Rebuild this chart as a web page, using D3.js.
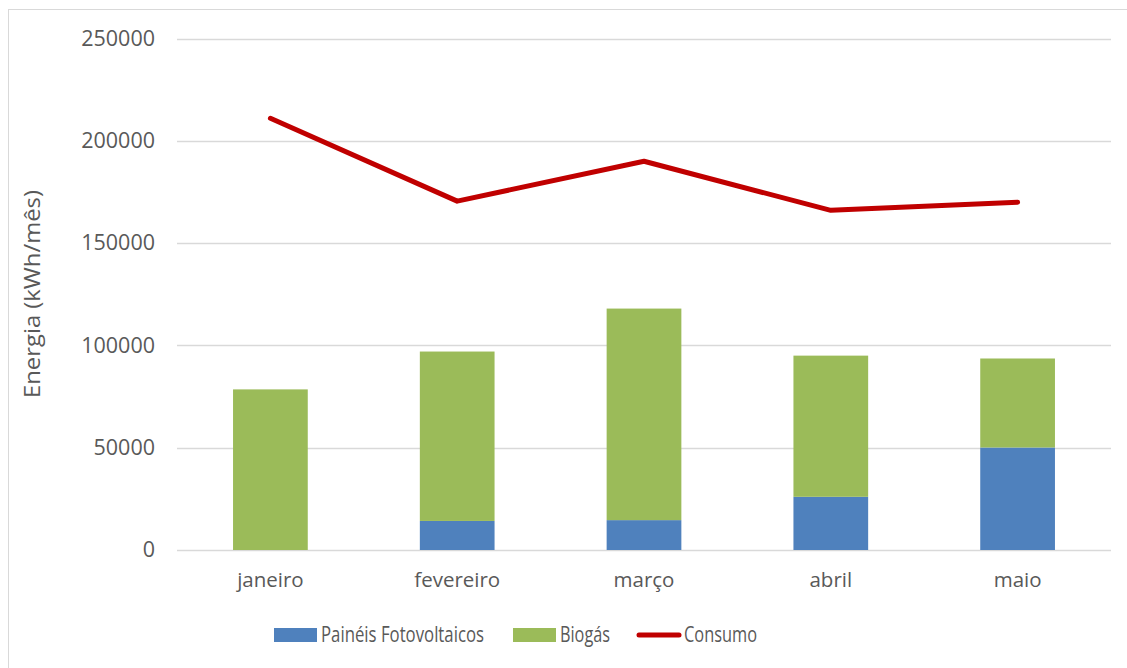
<!DOCTYPE html>
<html><head><meta charset="utf-8">
<script src="https://cdn.jsdelivr.net/npm/d3@7"></script>
<style>
html,body{margin:0;padding:0;background:#fff;}
text{font-family:"Open Sans",sans-serif;fill:#595959;}
</style></head>
<body><svg id="c" width="1127" height="668"></svg>
<script>
const categories = ["janeiro","fevereiro","março","abril","maio"];
const fotovoltaicos = [0, 14200, 14600, 26000, 50100];
const biogas = [78500, 82800, 103400, 69000, 43500];
const consumo = [211000, 170500, 190000, 166000, 170000];
const yTicks = [0, 50000, 100000, 150000, 200000, 250000];
const seriesNames = ["Painéis Fotovoltaicos", "Biogás", "Consumo"];
const colors = ["#4F81BD", "#9BBB59", "#C00000"];

(function(){
const svg = d3.select("#c");
const pLeft = 177, pRight = 1111, pTop = 38.5, pBottom = 550;
const fs = 20.5;

svg.append("rect").attr("x",8.5).attr("y",9.5).attr("width",1140).attr("height",700)
  .attr("fill","none").attr("stroke","#D9D9D9").attr("stroke-width",1);

const x = d3.scaleBand().domain(categories).range([pLeft,pRight]).padding(0);
const y = d3.scaleLinear().domain([0,250000]).range([pBottom,pTop]);

// gridlines
svg.append("g").selectAll("line").data(yTicks).join("line")
  .attr("x1",pLeft).attr("x2",pRight)
  .attr("y1",d=>Math.round(y(d))+0.5).attr("y2",d=>Math.round(y(d))+0.5)
  .attr("stroke","#D9D9D9").attr("stroke-width",1.3);

// y axis labels
const yAxis = d3.axisLeft(y).tickValues(yTicks).tickSize(0).tickPadding(22).tickFormat(d3.format("d"));
const gy = svg.append("g").attr("transform",`translate(${pLeft},0)`).call(yAxis);
gy.select(".domain").remove();
gy.selectAll("text").attr("font-size",21.5).attr("font-family","Open Sans").attr("fill","#595959");

// x axis labels
const xAxis = d3.axisBottom(x).tickSize(0).tickPadding(22);
const gx = svg.append("g").attr("transform",`translate(0,${pBottom})`).call(xAxis);
gx.select(".domain").remove();
gx.selectAll("text").attr("font-size",fs).attr("font-family","Open Sans").attr("fill","#595959");

// stacked bars
const data = categories.map((c,i)=>({cat:c, pv:fotovoltaicos[i], bio:biogas[i]}));
const stack = d3.stack().keys(["pv","bio"])(data);
const bw = x.bandwidth()*0.4;
svg.append("g").selectAll("g").data(stack).join("g")
  .attr("fill",(d,i)=>colors[i])
  .selectAll("rect").data(d=>d).join("rect")
  .attr("x",d=>x(d.data.cat)+x.bandwidth()/2-bw/2)
  .attr("width",bw)
  .attr("y",d=>y(d[1]))
  .attr("height",d=>y(d[0])-y(d[1]));

// line
const line = d3.line().x((d,i)=>x(categories[i])+x.bandwidth()/2).y(d=>y(d));
svg.append("path").datum(consumo).attr("d",line)
  .attr("fill","none").attr("stroke",colors[2]).attr("stroke-width",5)
  .attr("stroke-linecap","round").attr("stroke-linejoin","round");

// y title
svg.append("text").attr("transform","translate(40,294) rotate(-90)")
  .attr("text-anchor","middle").attr("font-size",22)
  .attr("textLength",208).attr("lengthAdjust","spacingAndGlyphs")
  .text("Energia (kWh/mês)");

// legend
const ly = 635;
const leg = [
  {sx:274, tx:321, tl:163, type:"rect"},
  {sx:513, tx:560, tl:50, type:"rect"},
  {sx:637, tx:684, tl:73, type:"line"}
];
leg.forEach((l,i)=>{
  if(l.type==="rect"){
    svg.append("rect").attr("x",l.sx).attr("y",ly-7).attr("width",43).attr("height",14).attr("fill",colors[i]);
  } else {
    svg.append("line").attr("x1",l.sx+2).attr("x2",l.sx+42).attr("y1",ly).attr("y2",ly)
      .attr("stroke",colors[i]).attr("stroke-width",5).attr("stroke-linecap","round");
  }
  svg.append("text").attr("x",l.tx).attr("y",ly).attr("dy","0.35em").attr("font-size",21)
    .attr("textLength",l.tl).attr("lengthAdjust","spacingAndGlyphs").text(seriesNames[i]);
});
})();
</script></body></html>
